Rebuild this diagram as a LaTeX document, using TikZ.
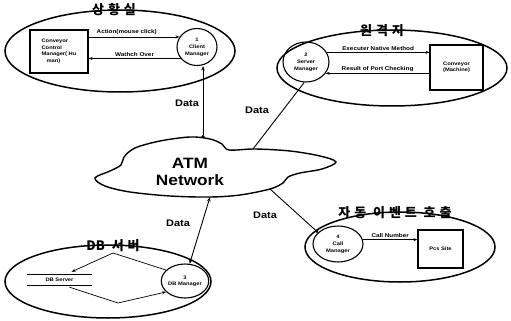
\documentclass[tikz,border=0pt]{standalone}
\usepackage{fontspec}
\setmainfont{Liberation Sans}[FakeStretch=1.15]
\newfontfamily\kr{Noto Sans CJK KR}[LetterSpace=30]
\newfontfamily\krtight{Noto Sans CJK KR}
\usetikzlibrary{shapes.geometric,arrows.meta,calc}
\begin{document}
\begin{tikzpicture}[x=1pt,y=-1pt,
  big/.style={draw,ellipse,line width=1.5pt,inner sep=0pt},
  proc/.style={draw,ellipse,line width=1.1pt,inner sep=0pt,align=center,font=\fontsize{5}{7}\selectfont\bfseries},
  boxn/.style={draw,rectangle,line width=1.1pt,inner sep=0pt,align=center,font=\fontsize{5}{6.5}\selectfont\bfseries},
  ttl/.style={font=\kr\bfseries\fontsize{13}{13}\selectfont,inner sep=0pt},
  flow/.style={line width=0.7pt,-{Stealth[length=4pt,width=3pt]}},
  lbl/.style={font=\fontsize{5.5}{5.5}\selectfont\bfseries,inner sep=1.5pt},
  dlbl/.style={font=\fontsize{9.5}{9.5}\selectfont\bfseries,inner sep=0pt},
  dline/.style={line width=0.9pt},
]
\useasboundingbox (0,0) rectangle (511,321);

% ---------- ATM cloud ----------
\draw[line width=1.4pt] plot[smooth cycle,tension=0.55] coordinates {
 (95,178) (110,171) (121,165) (124,157) (135,148) (160,141) (190,137) (210,139)
 (222,144) (229,150) (255,149) (290,151) (320,156) (336,162) (322,169) (300,173)
 (288,177) (283,183) (270,189) (240,195) (210,197) (170,196) (130,192) (105,186)};
\node[font=\fontsize{15}{17}\selectfont\bfseries,align=center] (atm) at (190,172) {ATM\\Network};
\coordinate (cA) at (203,138);
\coordinate (cB) at (253,149);
\coordinate (cC) at (210,197);
\coordinate (cD) at (270,189);

% ---------- 상황실 ----------
\node[big,minimum width=230pt,minimum height=82pt] (E1) at (120,51) {};
\node[ttl] (T1) at (114,10) {상황실};
\node[boxn,minimum width=58pt,minimum height=43pt,align=left] (B1) at (59,51.5)
  {Conveyor\\Control\\Manager( Hu\\\hspace*{5pt}man)};
\node[proc,minimum width=40pt,minimum height=37pt] (C1) at (197,47) {1\\Client\\Manager};
\draw[flow] (B1.east |- C1.150) -- node[lbl,above,pos=0.42] {Action(mouse click)} (C1.150);
\draw[flow] (C1.215) -- node[lbl,above] {Wathch Over} (B1.east |- C1.215);

% ---------- 원격지 ----------
\node[big,minimum width=230pt,minimum height=76pt] (E2) at (392,68) {};
\node[ttl] (T2) at (382,31) {원격지};
\node[proc,minimum width=46pt,minimum height=40pt] (C2) at (306,62) {2\\Server\\Manager};
\node[boxn,minimum width=53pt,minimum height=45pt] (B2) at (456.5,67.5) {Conveyor\\(Machine)};
\draw[flow] (C2.25) -- node[lbl,above] {Executer Native Method} (B2.west |- C2.25);
\draw[flow] (B2.west |- C2.-30) -- node[lbl,above] {Result of Port Checking} (C2.-30);

% ---------- DB 서버 ----------
\node[big,minimum width=206pt,minimum height=73pt] (E3) at (108,281.5) {};
\node[ttl] (T3) at (113,246) {{\krtight DB} 서버};
\node[font=\fontsize{5}{5}\selectfont\bfseries,inner sep=0pt,minimum width=65pt,minimum height=10pt] (DBS) at (59.5,280) {DB Server};
\draw[line width=0.8pt] (DBS.north west) -- (DBS.north east);
\draw[line width=0.8pt] (DBS.south west) -- (DBS.south east);
\node[proc,minimum width=44pt,minimum height=34pt] (C3) at (185,281) {3\\[-1pt]DB Manager};
\coordinate (dtop) at (113,253);
\coordinate (dbot) at (118,303);
\draw[flow] (C3.150) -- (dtop) -- ($(DBS.north)+(12,-3)$);
\draw[flow] ($(DBS.south)+(10,2)$) -- (dbot) -- (C3.210);

% ---------- 자동 이벤트 호출 ----------
\node[big,minimum width=190pt,minimum height=70pt] (E4) at (400,247) {};
\node[ttl] (T4) at (395,213) {자동 이벤트 호출};
\node[proc,minimum width=50pt,minimum height=36pt] (C4) at (338,244) {4\\Call\\Manager};
\node[boxn,minimum width=45pt,minimum height=38pt] (B4) at (440.5,249) {Pcs Site};
\draw[flow] (C4.10) -- node[lbl,above] {Call Number} (B4.west |- C4.10);

% ---------- Data connectors ----------
\draw[dline,{Circle[length=3pt]}-{Stealth[length=4.5pt,width=3.5pt]}] (cA) -- (cA |- C1.south);
\node[dlbl] (D1) at (187,103) {Data};
\draw[dline] (cB) -- (C2.265);
\node[dlbl] (D2) at (257,110) {Data};
\draw[dline,{Stealth[length=4.5pt,width=3.5pt]}-{Stealth[length=4.5pt,width=3.5pt]}] (cC) -- (C3.75);
\node[dlbl] (D3) at (178,223) {Data};
\draw[dline,-{Circle[length=3pt]}] (cD) -- (C4.150);
\node[dlbl] (D4) at (265,215) {Data};
\end{tikzpicture}
\end{document}
